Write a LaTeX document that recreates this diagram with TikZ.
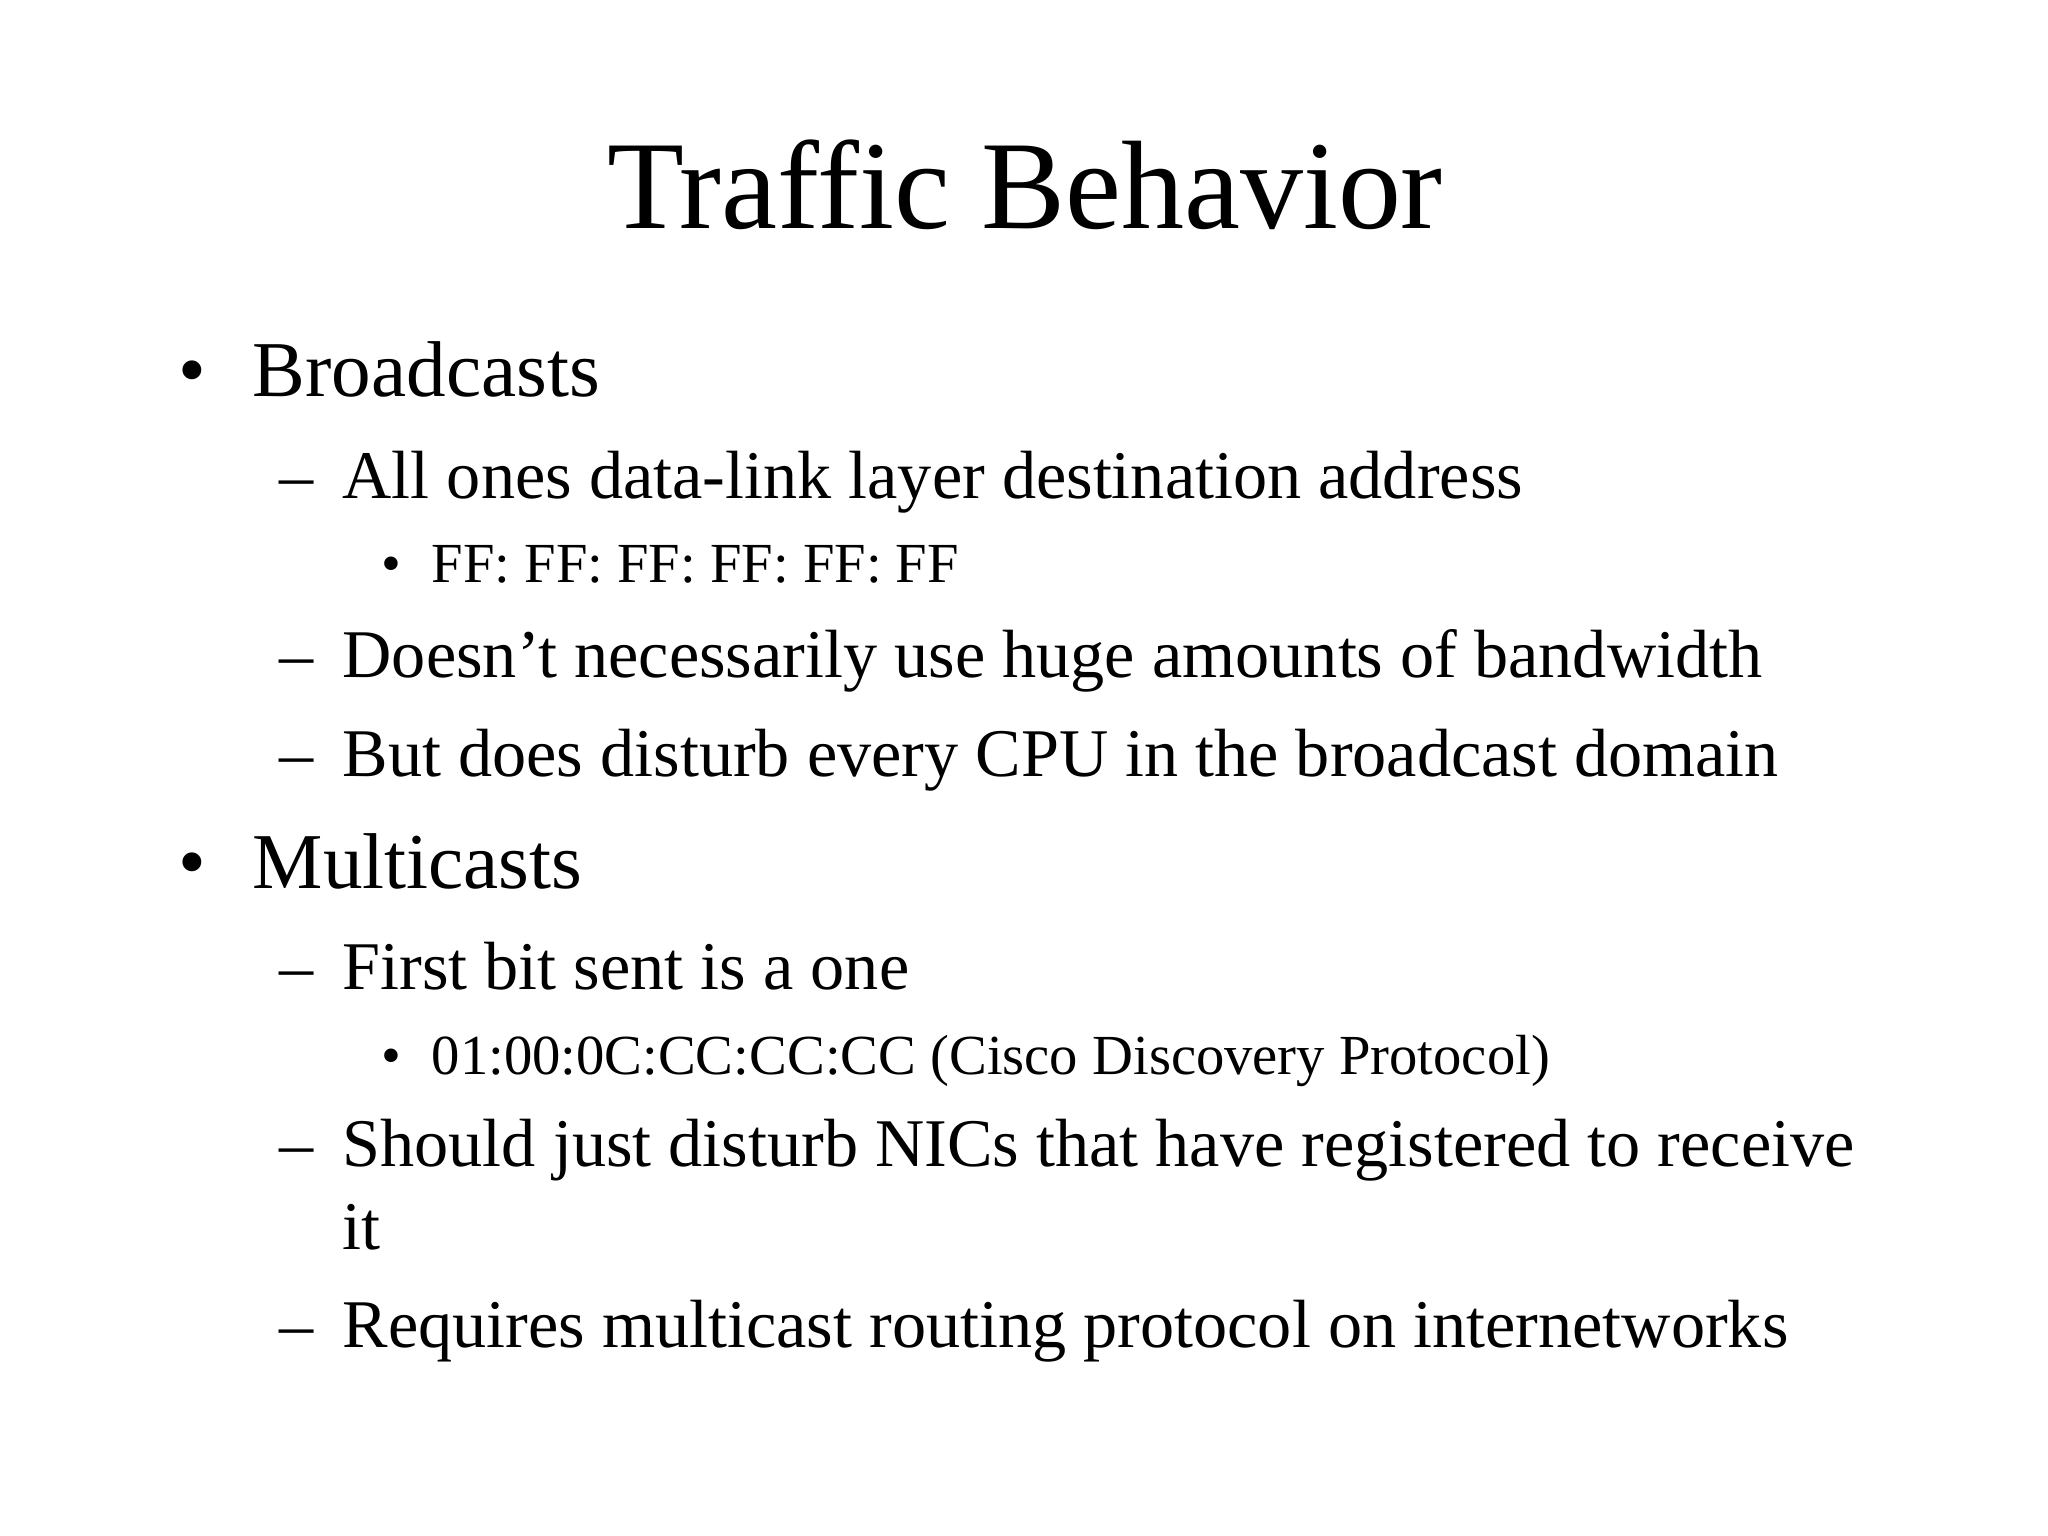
\documentclass[tikz,border=0pt]{standalone}
\usepackage{fontspec}
\setmainfont{Liberation Serif}
\begin{document}
\begin{tikzpicture}[x=0.01cm,y=-0.01cm,
  t/.style={anchor=base west,inner sep=0pt},
  lone/.style={t,font=\fontsize{22.5}{27}\selectfont},
  ltwo/.style={t,font=\fontsize{19.4}{23}\selectfont},
  lthree/.style={t,font=\fontsize{16.1}{19}\selectfont}]
\useasboundingbox (0,0) rectangle (2048,1536);
\node[anchor=base,inner sep=0pt,font=\fontsize{35.8}{42}\selectfont] (title) at (1025,228) {Traffic Behavior};
\node[lone] (b1) at (178,396) {•};
\node[lone] (broad) at (252,396) {Broadcasts};
\node[ltwo] (d1) at (279,498) {–};
\node[ltwo] (allones) at (342,498) {All ones data-link layer destination address};
\node[lthree] (b2) at (381,582) {•};
\node[lthree] (ff) at (431,582) {FF: FF: FF: FF: FF: FF};
\node[ltwo] (d2) at (279,677) {–};
\node[ltwo] (doesnt) at (342,677) {Doesn’t necessarily use huge amounts of bandwidth};
\node[ltwo] (d3) at (279,776) {–};
\node[ltwo] (but) at (342,776) {But does disturb every CPU in the broadcast domain};
\node[lone] (b3) at (178,888) {•};
\node[lone] (multi) at (252,888) {Multicasts};
\node[ltwo] (d4) at (279,989) {–};
\node[ltwo] (first) at (342,989) {First bit sent is a one};
\node[lthree] (b4) at (381,1074) {•};
\node[lthree] (cdp) at (431,1074) {01:00:0C:CC:CC:CC (Cisco Discovery Protocol)};
\node[ltwo] (d5) at (279,1166) {–};
\node[ltwo] (should) at (342,1166) {Should just disturb NICs that have registered to receive};
\node[ltwo] (it) at (342,1249) {it};
\node[ltwo] (d6) at (279,1347) {–};
\node[ltwo] (req) at (342,1347) {Requires multicast routing protocol on internetworks};
\end{tikzpicture}
\end{document}
